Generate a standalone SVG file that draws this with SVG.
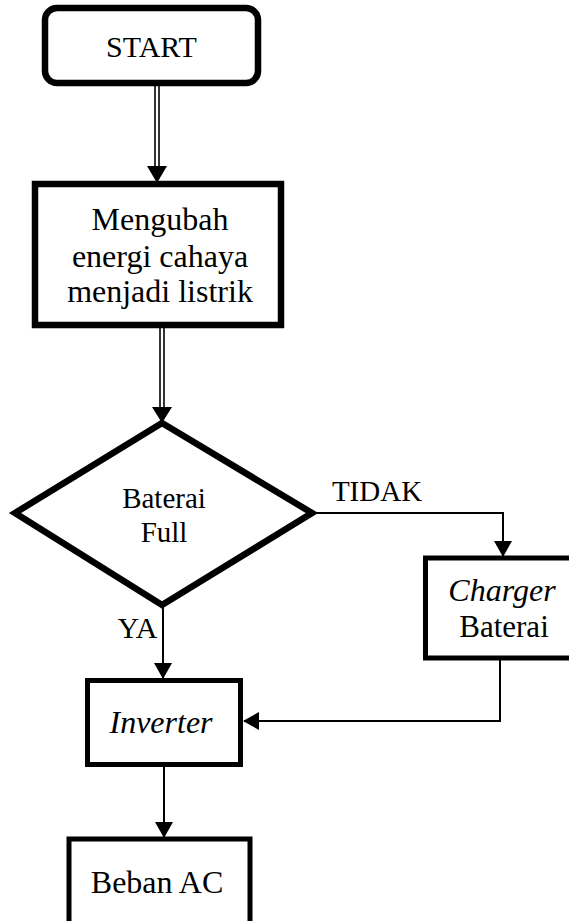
<svg xmlns="http://www.w3.org/2000/svg" width="569" height="921" viewBox="0 0 569 921">
<defs>
<style>
.box{fill:#fff;stroke:#000;stroke-linejoin:miter}
.c{fill:none;stroke:#000;stroke-width:2}
.d{fill:none;stroke:#000;stroke-width:1.6}
.ah{fill:#000}
</style>
<marker id="arr" viewBox="0 0 16 18" refX="15" refY="9" markerWidth="16" markerHeight="18" markerUnits="userSpaceOnUse" orient="auto">
<path d="M0,0 L16,9 L0,18 Z" fill="#000"/>
</marker>
</defs>
<rect width="569" height="921" fill="#fff"/>

<g font-family="Liberation Serif, serif" text-anchor="middle" fill="#000">
<g id="connectors">
<g id="c-start-proses">
<line class="d" x1="155" y1="86" x2="155" y2="168"/>
<line class="d" x1="159" y1="86" x2="159" y2="168"/>
<polygon class="ah" points="147,166 167,166 157,183"/>
</g>
<g id="c-proses-baterai">
<line class="d" x1="160" y1="328" x2="160" y2="410"/>
<line class="d" x1="164" y1="328" x2="164" y2="410"/>
<polygon class="ah" points="152,407 172,407 162,423"/>
</g>
<polyline class="c" points="312,513 503,513 503,556" marker-end="url(#arr)"/>
<line class="c" x1="163" y1="606" x2="163" y2="678" marker-end="url(#arr)"/>
<polyline class="c" points="500,658 500,721 244,721" marker-end="url(#arr)"/>
<line class="c" x1="164" y1="766" x2="164" y2="837" marker-end="url(#arr)"/>
<text x="377" y="501" font-size="29">TIDAK</text>
<text x="137.5" y="638" font-size="30">YA</text>
</g>

<g id="start">
<rect class="box" x="45" y="8" width="213" height="75" rx="12" stroke-width="6.5"/>
<text x="151.5" y="57" font-size="30">START</text>
</g>

<g id="proses">
<rect class="box" x="35" y="184" width="246" height="141" stroke-width="6.5"/>
<text x="160" y="230" font-size="32">Mengubah</text>
<text x="160" y="267" font-size="32">energi cahaya</text>
<text x="160" y="302" font-size="32">menjadi listrik</text>
</g>

<g id="baterai-full">
<polygon class="box" points="162,423 312,513 162,605 15,513" stroke-width="6.5"/>
<text x="164" y="508" font-size="29">Baterai</text>
<text x="164" y="542" font-size="29">Full</text>
</g>

<g id="charger">
<rect class="box" x="425.5" y="558" width="160" height="100" stroke-width="5"/>
<text x="502" y="601" font-size="32" font-style="italic">Charger</text>
<text x="504" y="637" font-size="31">Baterai</text>
</g>

<g id="inverter">
<rect class="box" x="87.5" y="680.5" width="153" height="84" stroke-width="5"/>
<text x="161" y="733" font-size="32" font-style="italic">Inverter</text>
</g>

<g id="beban">
<rect class="box" x="69" y="839" width="181" height="100" stroke-width="5"/>
<text x="157" y="893" font-size="32">Beban AC</text>
</g>
</g>
</svg>
